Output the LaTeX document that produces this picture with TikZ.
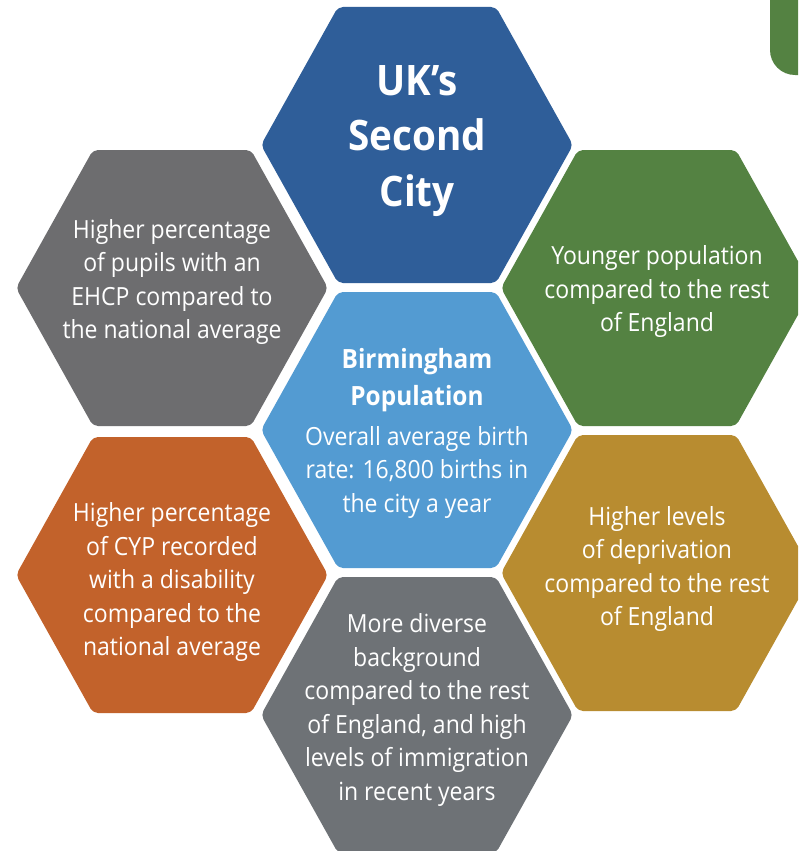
\documentclass[tikz,border=0pt]{standalone}
\usepackage{fontspec}
\setmainfont{Open Sans}[FakeStretch=0.92]
\definecolor{cblue}{RGB}{47,94,153}
\definecolor{clblue}{RGB}{83,155,210}
\definecolor{cgrayA}{RGB}{109,109,111}
\definecolor{cgrayB}{RGB}{110,114,118}
\definecolor{cgreen}{RGB}{84,130,66}
\definecolor{corange}{RGB}{194,98,43}
\definecolor{cgold}{RGB}{184,140,48}
\tikzset{
  hexcell/.style={rounded corners=5pt},
  hextext/.style={align=center, text=white, inner sep=0pt, font=\fontsize{25}{33.5}\selectfont},
  hextitle/.style={align=center, text=white, inner sep=0pt, font=\bfseries\fontsize{42}{55.5}\selectfont}
}
\newcommand{\hexat}[3]{%
  \fill[hexcell,#3] (#1-156,#2) -- (#1-79,#2-138) -- (#1+79,#2-138) -- (#1+156,#2) -- (#1+79,#2+138) -- (#1-79,#2+138) -- cycle;}
\begin{document}
\begin{tikzpicture}[x=1pt,y=-1pt]
\useasboundingbox (0,0) rectangle (798,851);
\clip (0,0) rectangle (798,851);
\fill[white] (0,0) rectangle (798,851);
% tab
\fill[cgreen, rounded corners=25pt] (770,-60) -- (770,75) -- (840,75) -- (840,-60) -- cycle;
% hexagons
\hexat{417}{145}{cblue}
\hexat{172}{288}{cgrayA}
\hexat{657}{288}{cgreen}
\hexat{417}{430}{clblue}
\hexat{172}{575}{corange}
\hexat{657}{573}{cgold}
\hexat{417}{715}{cgrayB}
% texts
\node[hextitle] (city) at (417,141) {UK’s\\Second\\City};
\node[hextext] (ehcp) at (172,282) {Higher percentage\\of pupils with an\\EHCP compared to\\the national average};
\node[hextext] (young) at (657,292) {Younger population\\compared to the rest\\of England};
\node[hextext] (birm) at (417,433) {{\bfseries\fontsize{26.5}{30}\selectfont Birmingham}\\[4pt]{\bfseries\fontsize{26.5}{30}\selectfont Population}\\[6pt]Overall average birth\\rate: 16,800 births in\\the city a year};
\node[hextext] (cyp) at (172,582) {Higher percentage\\of CYP recorded\\with a disability\\compared to the\\national average};
\node[hextext] (depr) at (657,569) {Higher levels\\of deprivation\\compared to the rest\\of England};
\node[hextext] (diverse) at (417,710) {More diverse\\background\\compared to the rest\\of England, and high\\levels of immigration\\in recent years};
\end{tikzpicture}
\end{document}
